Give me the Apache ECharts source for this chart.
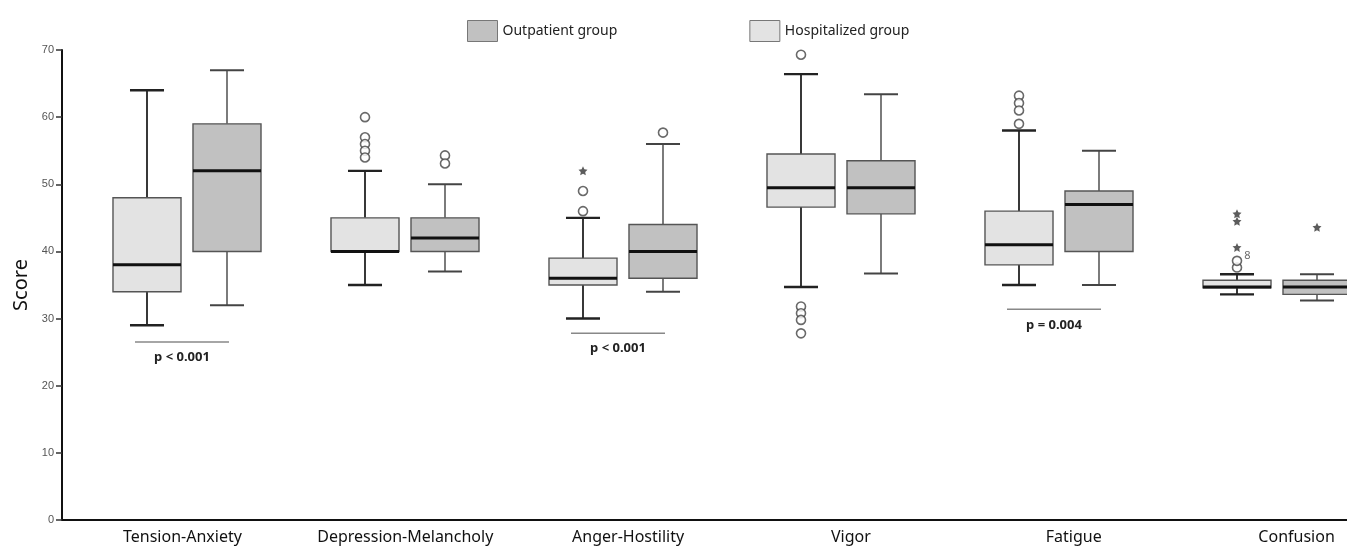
<!DOCTYPE html>
<html>
<head>
<meta charset="utf-8">
<script src="https://cdn.jsdelivr.net/npm/echarts@6/dist/echarts.min.js"></script>
<style>html,body{margin:0;padding:0;background:#fff}#c{width:1347px;height:547px}</style>
</head>
<body>
<div id="c"></div>
<script>
// ---- data ----
const categories = ['Tension-Anxiety','Depression-Melancholy','Anger-Hostility','Vigor','Fatigue','Confusion'];
const yTicks = [0,10,20,30,40,50,60,70];
// [min, Q1, median, Q3, max]
const hospitalized = [
  [29, 34, 38, 48, 64],
  [35, 40, 40, 45, 52],
  [30, 35, 36, 39, 45],
  [34.7, 46.6, 49.5, 54.5, 66.4],
  [35, 38, 41, 46, 58],
  [33.6, 34.6, 34.7, 35.7, 36.6]
];
const outpatient = [
  [32, 40, 52, 59, 67],
  [37, 40, 42, 45, 50],
  [34, 36, 40, 44, 56],
  [36.7, 45.6, 49.5, 53.5, 63.4],
  [35, 40, 47, 49, 55],
  [32.7, 33.6, 34.7, 35.7, 36.6]
];
// outliers: [categoryIndex, value]
const hospCircles = [[1,60],[1,57],[1,56],[1,55],[1,54],[2,49],[2,46],[3,69.3],[3,31.8],[3,30.8],[3,29.8],[3,27.8],[4,63.2],[4,62.1],[4,61],[4,59],[5,37.6]];
const hospLabeled = [[5,38.6,'8']];
const hospStars = [[2,52],[5,45.6],[5,44.5],[5,40.6]];
const outCircles = [[1,54.3],[1,53.1],[2,57.7]];
const outStars = [[5,43.6]];
// p-value annotations: [categoryIndex, lineValue, textValue, text]
const pNotes = [[0,26.5,24.3,'p < 0.001'],[2,27.8,25.5,'p < 0.001'],[4,31.4,29.0,'p = 0.004']];

const FONT = '"Noto Sans", "Open Sans", sans-serif';
const LIGHT = '#e3e3e3', DARK = '#c1c1c1';
const STAR = 'path://M0,-10L2.9,-4L9.5,-3.1L4.7,1.5L5.9,8.1L0,5L-5.9,8.1L-4.7,1.5L-9.5,-3.1L-2.9,-4Z';

const gTop = 50, gBottom = 27, BAND_W = 1308;
const hiddenY = i => ({gridIndex:i, type:'value', min:0, max:70, interval:10, show:false});
const hiddenX = i => ({gridIndex:i, type:'category', data:categories, show:false});

function boxSeries(name, xi, arr, fill, whisker, lw){
  return {
    type:'custom', name:name, xAxisIndex:xi, yAxisIndex:xi, z:3, silent:true,
    itemStyle:{color:fill},
    data: arr.map((d,i)=>[i].concat(d)),
    encode:{x:0, y:[1,2,3,4,5]},
    renderItem: function(params, api){
      const i = api.value(0);
      const pMin = api.coord([i, api.value(1)]);
      const pQ1 = api.coord([i, api.value(2)]);
      const pMed = api.coord([i, api.value(3)]);
      const pQ3 = api.coord([i, api.value(4)]);
      const pMax = api.coord([i, api.value(5)]);
      const bw = api.size([1,0])[0]*0.312, hw = bw/2, cw = bw/4;
      const x = pMin[0];
      const ws = {stroke:whisker, lineWidth:lw};
      return {type:'group', children:[
        {type:'line', shape:{x1:x, y1:pMax[1], x2:x, y2:pQ3[1]}, style:ws},
        {type:'line', shape:{x1:x, y1:pQ1[1], x2:x, y2:pMin[1]}, style:ws},
        {type:'line', shape:{x1:x-cw, y1:pMax[1], x2:x+cw, y2:pMax[1]}, style:{stroke:whisker, lineWidth:lw+0.6}},
        {type:'line', shape:{x1:x-cw, y1:pMin[1], x2:x+cw, y2:pMin[1]}, style:{stroke:whisker, lineWidth:lw+0.6}},
        {type:'rect', shape:{x:x-hw, y:pQ3[1], width:bw, height:pQ1[1]-pQ3[1]}, style:{fill:fill, stroke:'#555', lineWidth:1.4}},
        {type:'line', shape:{x1:x-hw, y1:pMed[1], x2:x+hw, y2:pMed[1]}, style:{stroke:'#111', lineWidth:3}}
      ]};
    }
  };
}

const chart = echarts.init(document.getElementById('c'), null, {renderer:'canvas'});
const option = {
  backgroundColor:'#fff',
  animation:false,
  textStyle:{fontFamily:FONT},
  legend:{
    left:462, top:15, itemWidth:30, itemHeight:21, itemGap:132,
    icon:'rect',
    data:[
      {name:'Outpatient group', itemStyle:{color:DARK, borderColor:'#777', borderWidth:1}},
      {name:'Hospitalized group', itemStyle:{color:LIGHT, borderColor:'#777', borderWidth:1}}
    ],
    textStyle:{fontFamily:FONT, fontSize:14, color:'#222'}
  },
  grid:[
    {left:71, width:1337, top:gTop, bottom:gBottom, outerBoundsMode:'none', containLabel:false},
    {left:38, width:BAND_W, top:gTop, bottom:gBottom, outerBoundsMode:'none', containLabel:false},
    {left:118, width:BAND_W, top:gTop, bottom:gBottom, outerBoundsMode:'none', containLabel:false},
    {left:62, right:0, top:gTop, bottom:gBottom, outerBoundsMode:'none', containLabel:false}
  ],
  xAxis:[
    {gridIndex:0, type:'category', data:categories,
     axisLine:{show:false}, axisTick:{show:false},
     axisLabel:{fontFamily:FONT, fontSize:16, color:'#111', margin:9, interval:0}},
    hiddenX(1), hiddenX(2),
    {gridIndex:3, type:'value', min:0, max:1, axisLabel:{show:false}, axisTick:{show:false}, splitLine:{show:false},
     axisLine:{show:true, lineStyle:{color:'#111', width:2}}}
  ],
  yAxis:[
    hiddenY(0), hiddenY(1), hiddenY(2),
    {gridIndex:3, type:'value', min:0, max:70, interval:10,
     name:'Score', nameLocation:'middle', nameGap:31, nameRotate:90,
     nameTextStyle:{fontFamily:FONT, fontSize:20, color:'#111'},
     axisLine:{show:true, lineStyle:{color:'#111', width:2}},
     axisTick:{show:true, length:6, lineStyle:{color:'#333', width:1.5}},
     axisLabel:{fontFamily:'"Liberation Sans", Arial, sans-serif', fontSize:11, color:'#555', margin:8,
       formatter: v => yTicks.indexOf(v) >= 0 ? String(v) : ''},
     splitLine:{show:false}}
  ],
  series:[
    boxSeries('Hospitalized group', 1, hospitalized, LIGHT, '#222', 1.8),
    boxSeries('Outpatient group', 2, outpatient, DARK, '#444', 1.4),
    {type:'scatter', xAxisIndex:1, yAxisIndex:1, symbol:'circle', symbolSize:9, z:6, silent:true,
     data:hospCircles, itemStyle:{color:'#fff', borderColor:'#444', borderWidth:1.6}},
    {type:'scatter', xAxisIndex:1, yAxisIndex:1, symbol:'circle', symbolSize:9, z:6, silent:true,
     data:hospLabeled.map(d=>({value:[d[0],d[1]], label:{show:true, formatter:d[2]}})),
     itemStyle:{color:'#fff', borderColor:'#444', borderWidth:1.6},
     label:{position:'right', distance:2, offset:[0,-5], fontSize:11, color:'#444', fontFamily:FONT}},
    {type:'scatter', xAxisIndex:1, yAxisIndex:1, symbol:STAR, symbolSize:9, z:6, silent:true,
     data:hospStars, itemStyle:{color:'#333'}},
    {type:'scatter', xAxisIndex:2, yAxisIndex:2, symbol:'circle', symbolSize:9, z:6, silent:true,
     data:outCircles, itemStyle:{color:'#fff', borderColor:'#444', borderWidth:1.6}},
    {type:'scatter', xAxisIndex:2, yAxisIndex:2, symbol:STAR, symbolSize:9, z:6, silent:true,
     data:outStars, itemStyle:{color:'#333'}}
  ]
};
chart.setOption(option);

// p-value annotations placed through the chart's own scales
const g = [];
pNotes.forEach(n => {
  const a = chart.convertToPixel({xAxisIndex:1, yAxisIndex:1}, [n[0], n[1]]);
  const b = chart.convertToPixel({xAxisIndex:2, yAxisIndex:2}, [n[0], n[1]]);
  const t = chart.convertToPixel({xAxisIndex:1, yAxisIndex:1}, [n[0], n[2]]);
  const x1 = a[0] - 12, x2 = b[0] + 2;
  g.push({type:'line', shape:{x1:x1, y1:a[1], x2:x2, y2:a[1]}, style:{stroke:'#888', lineWidth:1.5}, z:10});
  g.push({type:'text', x:(x1+x2)/2, y:t[1], style:{text:n[3], fill:'#222', font:'bold 13px ' + FONT, align:'center', verticalAlign:'middle'}, z:10});
});
chart.setOption({graphic:g});
</script>
</body>
</html>
